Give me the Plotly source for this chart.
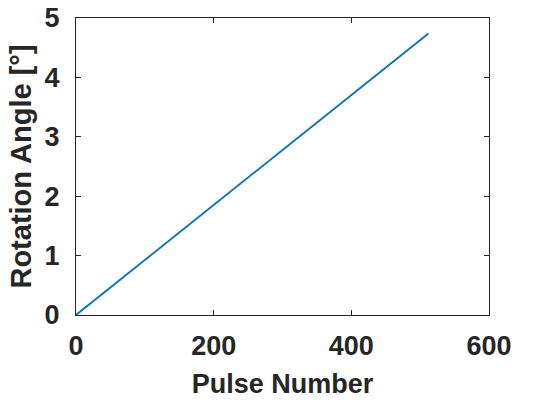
import plotly.graph_objects as go

pulse_number = [0, 512]
rotation_angle = [0, 4.74]

x_ticks = [0, 200, 400, 600]
y_ticks = [0, 1, 2, 3, 4, 5]

FONT = "Liberation Sans, Arial, sans-serif"
AX = "#262626"
FS = 27

fig = go.Figure()
fig.add_trace(go.Scatter(x=pulse_number, y=rotation_angle, mode="lines",
                         line=dict(color="#0072BD", width=1.8), showlegend=False,
                         hoverinfo="skip"))

axis_common = dict(showgrid=False, zeroline=False, showline=True, linecolor=AX, linewidth=1.2,
                   mirror="ticks", ticks="inside", ticklen=5, tickcolor=AX, tickwidth=1.2,
                   automargin=False, ticklabeloverflow="allow",
                   tickfont=dict(family=FONT, size=FS, color=AX, weight="bold"))

fig.update_xaxes(range=[0, 600], tickvals=x_ticks, ticktext=[str(v) for v in x_ticks],
                 title=dict(text="Pulse Number", font=dict(family=FONT, size=FS, color=AX, weight="bold"), standoff=14),
                 ticklabelstandoff=6, **axis_common)
fig.update_yaxes(range=[0, 5], tickvals=y_ticks, ticktext=[str(v) for v in y_ticks],
                 title=dict(text="Rotation Angle [°]", font=dict(family=FONT, size=29, color=AX, weight="bold"), standoff=4),
                 ticklabelstandoff=10, **axis_common)

fig.update_layout(width=550, height=409, margin=dict(l=76, r=61, t=18, b=94),
                  plot_bgcolor="white", paper_bgcolor="white")
fig.write_html("out.html", config={"displayModeBar": False},
               post_script="document.body.style.margin='0';")
